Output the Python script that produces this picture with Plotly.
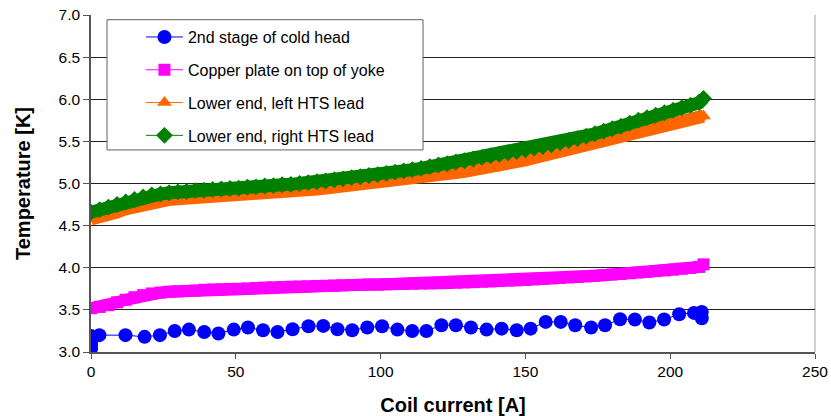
import plotly.graph_objects as go

# ---------------- data ----------------
x_dense = [0, 3, 6, 9, 12, 15, 18, 21, 24, 27, 30, 33, 36, 39, 42, 45, 48, 51, 54, 57,
           60, 63, 66, 69, 72, 75, 78, 81, 84, 87, 90, 93, 96, 99, 102, 105, 108, 111, 114, 117,
           120, 123, 126, 129, 132, 135, 138, 141, 144, 147, 150, 153, 156, 159, 162, 165, 168, 171, 174, 177,
           180, 183, 186, 189, 192, 195, 198, 201, 204, 207, 210, 211.5]

copper_plate = [3.52, 3.535, 3.555, 3.59, 3.62, 3.65, 3.675, 3.695, 3.705, 3.715, 3.72, 3.725, 3.73, 3.738, 3.742, 3.745, 3.748, 3.75, 3.755, 3.76,
                3.765, 3.768, 3.772, 3.775, 3.778, 3.78, 3.784, 3.786, 3.789, 3.792, 3.795, 3.797, 3.80, 3.80, 3.803, 3.806, 3.808, 3.81, 3.812, 3.814,
                3.816, 3.819, 3.822, 3.825, 3.829, 3.833, 3.837, 3.842, 3.846, 3.85, 3.855, 3.861, 3.867, 3.873, 3.879, 3.885, 3.891, 3.897, 3.905, 3.912,
                3.92, 3.927, 3.935, 3.943, 3.951, 3.96, 3.968, 3.977, 3.988, 3.998, 4.01, 4.04]

left_lead = [4.58, 4.60, 4.625, 4.66, 4.70, 4.73, 4.76, 4.785, 4.795, 4.81, 4.82, 4.825, 4.83, 4.835, 4.84, 4.845, 4.85, 4.855, 4.865, 4.87,
             4.88, 4.89, 4.90, 4.905, 4.915, 4.925, 4.935, 4.945, 4.955, 4.965, 4.975, 4.985, 4.995, 5.005, 5.02, 5.03, 5.04, 5.055, 5.07, 5.085,
             5.10, 5.115, 5.13, 5.145, 5.16, 5.18, 5.20, 5.215, 5.235, 5.26, 5.28, 5.305, 5.33, 5.355, 5.375, 5.40, 5.425, 5.45, 5.48, 5.51,
             5.54, 5.57, 5.60, 5.63, 5.66, 5.685, 5.71, 5.73, 5.75, 5.77, 5.79, 5.80]

right_lead = [4.66, 4.69, 4.72, 4.75, 4.78, 4.81, 4.84, 4.865, 4.875, 4.89, 4.90, 4.905, 4.915, 4.92, 4.93, 4.935, 4.94, 4.945, 4.955, 4.96,
              4.97, 4.975, 4.985, 4.99, 5.00, 5.01, 5.02, 5.03, 5.045, 5.055, 5.07, 5.08, 5.095, 5.105, 5.12, 5.135, 5.15, 5.165, 5.18, 5.20,
              5.22, 5.235, 5.255, 5.27, 5.29, 5.31, 5.33, 5.345, 5.365, 5.38, 5.40, 5.42, 5.44, 5.46, 5.485, 5.51, 5.535, 5.56, 5.59, 5.62,
              5.65, 5.68, 5.715, 5.75, 5.78, 5.81, 5.84, 5.87, 5.90, 5.93, 5.96, 6.01]

x_cold = [0, 0, 0, 0, 0, 2.9, 11.9, 18.5, 23.8, 28.9, 33.8, 39.1, 44.0, 49.3, 54.2, 59.4, 64.4, 69.6, 75.1, 80.2,
          85.1, 90.2, 95.4, 100.5, 105.8, 110.9, 115.8, 121.0, 126.0, 131.2, 136.6, 141.8, 147.0, 151.8, 157.0, 162.2, 167.2, 172.7, 177.5, 182.7,
          187.8, 192.8, 197.9, 203.1, 208.2, 210.9, 210.9]
cold_head = [3.04, 3.08, 3.12, 3.16, 3.19, 3.20, 3.20, 3.18, 3.20, 3.25, 3.266, 3.238, 3.22, 3.266, 3.29, 3.258, 3.238, 3.27, 3.305, 3.31,
             3.27, 3.258, 3.29, 3.305, 3.266, 3.25, 3.25, 3.317, 3.317, 3.29, 3.266, 3.277, 3.258, 3.277, 3.357, 3.357, 3.317, 3.29, 3.317, 3.389,
             3.385, 3.35, 3.385, 3.448, 3.464, 3.476, 3.40]

series_names = ["2nd stage of cold head", "Copper plate on top of yoke",
                "Lower end, left HTS lead", "Lower end, right HTS lead"]
x_ticks = [0, 50, 100, 150, 200, 250]
y_ticks = [3.0, 3.5, 4.0, 4.5, 5.0, 5.5, 6.0, 6.5, 7.0]

FONT = "Liberation Sans, Arial, sans-serif"
BLUE, MAGENTA, ORANGE, GREEN = "#0000FF", "#FF00FF", "#FF6600", "#008000"

fig = go.Figure()
fig.add_trace(go.Scatter(x=x_cold, y=cold_head, name=series_names[0], mode="lines+markers",
                         line=dict(color=BLUE, width=1),
                         marker=dict(symbol="circle", size=14, color=BLUE),
                         legendgroup="a"))

def dense_series(y, name, color, symbol, size, band, group):
    # densely packed markers in the original form a solid band: band line + markers on top
    fig.add_trace(go.Scatter(x=x_dense, y=y, mode="lines", showlegend=False, hoverinfo="skip",
                             line=dict(color=color, width=band), legendgroup=group))
    fig.add_trace(go.Scatter(x=x_dense, y=y, name=name, mode="lines+markers",
                             line=dict(color=color, width=1),
                             marker=dict(symbol=symbol, size=size, color=color),
                             legendgroup=group))

dense_series(copper_plate, series_names[1], MAGENTA, "square", 12, 12, "b")
dense_series(left_lead, series_names[2], ORANGE, "triangle-up", 13, 13, "c")
dense_series(right_lead, series_names[3], GREEN, "diamond", 13, 13, "d")

# legend frame (Excel-style box)
fig.add_shape(type="rect", xref="paper", yref="paper",
              x0=0.0221, x1=0.4586, y0=0.5996, y1=0.986,
              line=dict(color="#606060", width=1), fillcolor="white", layer="above")
# right edge of plot area
fig.add_shape(type="line", xref="paper", yref="paper", x0=1, x1=1, y0=0, y1=1,
              line=dict(color="#a0a0a0", width=1), layer="below")

fig.update_layout(
    width=831, height=416,
    margin=dict(l=91, r=16, t=15, b=64, pad=0),
    paper_bgcolor="white", plot_bgcolor="white",
    font=dict(family=FONT, size=15.5, color="black"),
    legend=dict(x=0.069, y=0.985, xanchor="left", yanchor="top",
                bgcolor="rgba(0,0,0,0)", borderwidth=0,
                font=dict(family=FONT, size=16, color="black"),
                tracegroupgap=9, itemsizing="trace", itemwidth=37),
    showlegend=True,
)
fig.update_xaxes(range=[0, 250], tickvals=x_ticks, ticktext=[str(v) for v in x_ticks],
                 showgrid=False, zeroline=False, automargin=False,
                 showline=True, linecolor="#555555", linewidth=1.5,
                 ticks="outside", ticklen=5, tickcolor="#555555",
                 tickfont=dict(family=FONT, size=15.5, color="black"),
                 title=dict(text="<b>Coil current [A]</b>", font=dict(family=FONT, size=20, color="black"),
                            standoff=20))
fig.update_yaxes(range=[3.0, 7.0], tickvals=y_ticks, ticktext=[f"{v:.1f}" for v in y_ticks],
                 showgrid=True, gridcolor="#222222", gridwidth=1, zeroline=False, automargin=False,
                 showline=True, linecolor="#555555", linewidth=1.5,
                 ticks="outside", ticklen=6, tickcolor="#555555",
                 tickfont=dict(family=FONT, size=15.5, color="black"),
                 title=dict(text="<b>Temperature [K]</b>", font=dict(family=FONT, size=20, color="black"),
                            standoff=23))

fig.write_html("out.html")
